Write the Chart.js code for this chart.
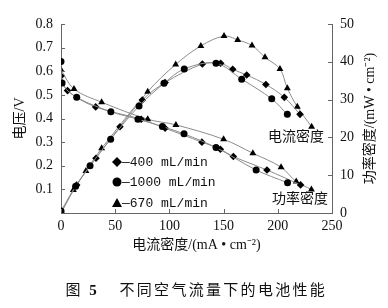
<!DOCTYPE html>
<html>
<head>
<meta charset="utf-8">
<script src="https://cdn.jsdelivr.net/npm/chart.js@4/dist/chart.umd.min.js"></script>
<style>
  html, body { margin: 0; padding: 0; background: #fff; }
  #chart { display: block; }
</style>
</head>
<body>
<canvas id="chart" width="388" height="308"></canvas>
<script>
// --- Data ---
// voltage curves (left axis), x = current density mA/cm2
const currentV400 = [0, 6, 32, 74, 96, 130, 147, 159, 190, 221];
const voltage400 = [0.58, 0.518, 0.449, 0.397, 0.359, 0.30, 0.27, 0.239, 0.182, 0.119];
const currentV1000 = [0, 1, 14.5, 46, 71, 93.5, 113.5, 143, 180, 209];
const voltage1000 = [0.641, 0.55, 0.49, 0.429, 0.397, 0.366, 0.335, 0.277, 0.182, 0.128];
const currentV670 = [0, 12, 37.5, 80, 106, 150, 177, 203, 217, 231];
const voltage670 = [0.606, 0.525, 0.469, 0.397, 0.373, 0.312, 0.253, 0.194, 0.133, 0.10];

// power density curves (right axis)
const currentP400 = [0, 14.5, 32.3, 54.4, 75, 96, 130.4, 147.3, 158.4, 171.3, 189, 206, 220.5];
const power400 = [0, 7.4, 14.5, 22.8, 29.9, 34.5, 39.4, 39.6, 38.0, 36.5, 34.0, 30.6, 26.1];
const currentP1000 = [0, 13.5, 26.8, 45.8, 72, 95, 113.7, 143, 166.7, 194.4, 208.8];
const power1000 = [0.5, 7.1, 12.5, 19.5, 28.3, 34.3, 38.1, 39.6, 35.4, 30.2, 26.1];
const currentP670 = [0, 11.4, 23, 37.5, 80, 105.8, 129, 150.4, 163, 176.2, 188.2, 202, 208.8, 218, 231.2];
const power670 = [0, 6.1, 11.1, 17.1, 32.1, 39.3, 44.2, 46.8, 45.8, 44.3, 41.2, 38.1, 33.0, 28.1, 22.8];

const flowLabels = ['\u2014400 mL/min', '\u20141000 mL/min', '\u2014670 mL/min'];
const xTicks = [0, 50, 100, 150, 200, 250];
const voltTicks = [0.1, 0.2, 0.3, 0.4, 0.5, 0.6, 0.7, 0.8];
const powerTicks = [0, 10, 20, 30, 40, 50];

const SERIF = '"Liberation Serif", "Noto Sans CJK SC", serif';
const AXIS_COLOR = '#666';
const LINE_COLOR = '#8c8c8c';

// --- Helpers ---
function toPoints(xs, ys) {
    return xs.map((x, i) => ({ x: x, y: ys[i] }));
}

function series(xs, ys, axis, style, radius) {
    return {
        data: toPoints(xs, ys),
        yAxisID: axis,
        showLine: true,
        borderColor: LINE_COLOR,
        borderWidth: 1,
        tension: 0.35,
        pointStyle: style,
        pointRadius: radius,
        pointBackgroundColor: '#000',
        pointBorderColor: '#000',
        pointBorderWidth: 0
    };
}

function drawMarker(ctx, style, x, y, r) {
    ctx.save();
    ctx.fillStyle = '#000';
    ctx.beginPath();
    if (style === 'circle') {
        ctx.arc(x, y, r, 0, Math.PI * 2);
    } else if (style === 'rectRot') {
        ctx.moveTo(x, y - r); ctx.lineTo(x + r, y); ctx.lineTo(x, y + r); ctx.lineTo(x - r, y);
    } else {
        ctx.moveTo(x, y - r); ctx.lineTo(x + r, y + r * 0.8); ctx.lineTo(x - r, y + r * 0.8);
    }
    ctx.closePath();
    ctx.fill();
    ctx.restore();
}

// --- Extra drawing: inward ticks, titles, legend, notes, caption ---
const decorPlugin = {
    id: 'decor',
    afterDraw(chart) {
        const ctx = chart.ctx;
        const area = chart.chartArea;
        const sx = chart.scales.x, sv = chart.scales.yV, sp = chart.scales.yP;

        ctx.save();
        ctx.strokeStyle = AXIS_COLOR;
        ctx.lineWidth = 1;
        ctx.beginPath();
        xTicks.forEach(t => {
            const px = Math.round(sx.getPixelForValue(t)) + 0.5;
            ctx.moveTo(px, area.bottom); ctx.lineTo(px, area.bottom - 4);
        });
        voltTicks.forEach(t => {
            const py = Math.round(sv.getPixelForValue(t)) + 0.5;
            ctx.moveTo(area.left, py); ctx.lineTo(area.left + 4, py);
        });
        powerTicks.forEach(t => {
            const py = Math.round(sp.getPixelForValue(t)) + 0.5;
            ctx.moveTo(area.right, py); ctx.lineTo(area.right - 4, py);
        });
        ctx.stroke();

        ctx.fillStyle = '#111';
        ctx.textAlign = 'center';
        ctx.textBaseline = 'middle';
        ctx.font = '14px ' + SERIF;

        // axis titles
        const midY = (area.top + area.bottom) / 2;
        ctx.save();
        ctx.translate(20, midY);
        ctx.rotate(-Math.PI / 2);
        ctx.fillText('电压/V', 0, 0);
        ctx.restore();

        ctx.save();
        ctx.translate(370, midY);
        ctx.rotate(-Math.PI / 2);
        ctx.fillText('功率密度/(mW • cm\u207B\u00B2)', 0, 0);
        ctx.restore();

        ctx.fillText('电流密度/(mA • cm\u207B\u00B2)', (area.left + area.right) / 2, 245);

        // curve notes
        ctx.fillText('电流密度', 296, 137);
        ctx.fillText('功率密度', 300, 199);

        // legend inside plot
        const styles = ['rectRot', 'circle', 'triangle'];
        const rows = [162, 182, 203];
        ctx.textAlign = 'left';
        ctx.font = '13px "Liberation Mono", monospace';
        styles.forEach((st, i) => {
            drawMarker(ctx, st, 117, rows[i], st === 'circle' ? 4.5 : 5);
            ctx.fillText(flowLabels[i], 122, rows[i] + 1);
        });

        // caption
        ctx.textAlign = 'center';
        ctx.font = '15px ' + SERIF;
        ctx.fillText('图', 73, 291);
        ctx.font = 'bold 15px ' + SERIF;
        ctx.fillText('5', 93, 291);
        ctx.font = '15px ' + SERIF;
        const caption = '不同空气流量下的电池性能';
        for (let i = 0; i < caption.length; i++) {
            ctx.fillText(caption[i], 127 + i * 17.3, 291);
        }
        ctx.restore();
    }
};

// --- Chart ---
new Chart(document.getElementById('chart'), {
    type: 'scatter',
    data: {
        datasets: [
            series(currentV1000, voltage1000, 'yV', 'circle', 3.5),
            series(currentP1000, power1000, 'yP', 'circle', 3.5),
            series(currentV400, voltage400, 'yV', 'rectRot', 3.8),
            series(currentP400, power400, 'yP', 'rectRot', 3.8),
            series(currentV670, voltage670, 'yV', 'triangle', 4),
            series(currentP670, power670, 'yP', 'triangle', 4)
        ]
    },
    options: {
        responsive: false,
        animation: false,
        layout: { padding: { top: 24, left: 0, right: 0, bottom: 0 } },
        plugins: {
            legend: { display: false },
            tooltip: { enabled: false }
        },
        scales: {
            x: {
                type: 'linear',
                min: 0,
                max: 250,
                afterFit(scale) { scale.height = 95; },
                afterBuildTicks(scale) { scale.ticks = xTicks.map(v => ({ value: v })); },
                ticks: { color: '#111', font: { family: SERIF, size: 14 }, padding: 5, maxRotation: 0 },
                grid: { display: false, drawTicks: false },
                border: { display: true, color: AXIS_COLOR }
            },
            yV: {
                type: 'linear',
                position: 'left',
                min: 0,
                max: 0.8,
                afterFit(scale) { scale.width = 61; },
                afterBuildTicks(scale) { scale.ticks = voltTicks.map(v => ({ value: v })); },
                ticks: {
                    color: '#111',
                    font: { family: SERIF, size: 14 },
                    padding: 8,
                    callback: v => v.toFixed(1)
                },
                grid: { display: false, drawTicks: false },
                border: { display: true, color: AXIS_COLOR }
            },
            yP: {
                type: 'linear',
                position: 'right',
                min: 0,
                max: 50,
                afterFit(scale) { scale.width = 56; },
                afterBuildTicks(scale) { scale.ticks = powerTicks.map(v => ({ value: v })); },
                ticks: { color: '#111', font: { family: SERIF, size: 14 }, padding: 8 },
                grid: { display: false, drawTicks: false },
                border: { display: true, color: AXIS_COLOR }
            }
        }
    },
    plugins: [decorPlugin]
});
</script>
</body>
</html>
